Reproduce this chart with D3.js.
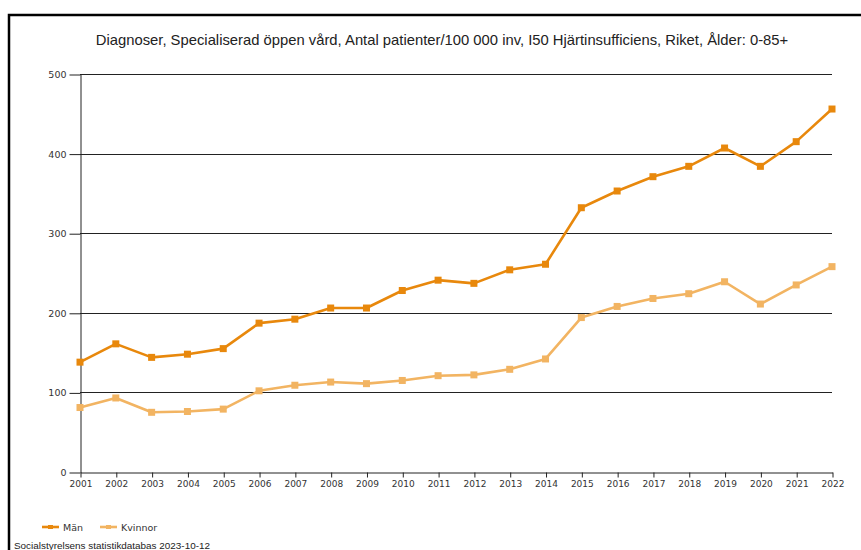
<!DOCTYPE html>
<html>
<head>
<meta charset="utf-8">
<script src="https://cdn.jsdelivr.net/npm/d3@7"></script>
<style>
  body { margin: 0; background: #fff; }
  svg { display: block; }
</style>
</head>
<body>
<script>
// data
var years = [2001,2002,2003,2004,2005,2006,2007,2008,2009,2010,2011,2012,2013,2014,2015,2016,2017,2018,2019,2020,2021,2022];
var man = [138,161,144,148,155,187,192,206,206,228,241,237,254,261,332,353,371,384,407,384,415,456];
var kvinnor = [81,93,75,76,79,102,109,113,111,115,121,122,129,142,194,208,218,224,239,211,235,258];
var yTicks = [0,100,200,300,400,500];
var seriesNames = ["Män","Kvinnor"];
var colors = ["#E8880C","#F2B462"];
var title = "Diagnoser, Specialiserad öppen vård, Antal patienter/100 000 inv, I50 Hjärtinsufficiens, Riket, Ålder: 0-85+";
var footer = "Socialstyrelsens statistikdatabas 2023-10-12";

var W = 861, H = 550;
var svg = d3.select("body").append("svg").attr("width", W).attr("height", H);

// outer frame
svg.append("path")
  .attr("d", "M9,560 L9,15 L870,15")
  .attr("fill", "none").attr("stroke", "#000").attr("stroke-width", 2.5);

svg.append("text")
  .attr("x", 442).attr("y", 45)
  .attr("text-anchor", "middle")
  .attr("font-family", "Liberation Sans, Arial, sans-serif")
  .attr("font-size", 14.8).attr("fill", "#222")
  .text(title);

var x = d3.scalePoint().domain(years).range([80, 832]);
var y = d3.scaleLinear().domain([0, 500]).range([472, 74]);

// grid
svg.append("g").selectAll("line")
  .data(yTicks.slice(1))
  .enter().append("line")
  .attr("x1", 80).attr("x2", 832)
  .attr("y1", function(d){ return Math.round(y(d)) + 0.5; })
  .attr("y2", function(d){ return Math.round(y(d)) + 0.5; })
  .attr("stroke", "#222").attr("stroke-width", 1);

// y axis
var yAxis = svg.append("g")
  .attr("transform", "translate(80.5,0.5)")
  .call(d3.axisLeft(y).tickValues(yTicks).tickSize(11).tickSizeOuter(0));
yAxis.select(".domain").attr("stroke", "#222");
yAxis.selectAll(".tick line").attr("stroke", "#222");
yAxis.selectAll("text")
  .attr("font-family", "DejaVu Sans, Verdana, sans-serif")
  .attr("font-size", 9.5).attr("fill", "#333").attr("x", -14);

// x axis
var xAxis = svg.append("g")
  .attr("transform", "translate(0.5," + (y(0) + 0.5) + ")")
  .call(d3.axisBottom(x).tickSize(5).tickSizeOuter(0));
xAxis.select(".domain").attr("stroke", "#222");
xAxis.selectAll(".tick line").attr("stroke", "#222");
xAxis.selectAll("text")
  .attr("font-family", "DejaVu Sans, Verdana, sans-serif")
  .attr("font-size", 9).attr("fill", "#333").attr("y", 8);

// series
var series = [man, kvinnor];
var line = d3.line()
  .x(function(d, i){ return x(years[i]); })
  .y(function(d){ return y(d); });

// draw Kvinnor first so Män sits on top
[1, 0].forEach(function(s) {
  var g = svg.append("g");
  g.append("path")
    .attr("d", line(series[s]))
    .attr("fill", "none")
    .attr("stroke", colors[s]).attr("stroke-width", 2.6)
    .attr("stroke-linejoin", "round");
  g.selectAll("rect")
    .data(series[s])
    .enter().append("rect")
    .attr("x", function(d, i){ return x(years[i]) - 3.5; })
    .attr("y", function(d){ return y(d) - 3.5; })
    .attr("width", 7).attr("height", 7)
    .attr("fill", colors[s]);
});

// legend
var legX = [42, 100];
var leg = svg.append("g");
seriesNames.forEach(function(n, i) {
  leg.append("line")
    .attr("x1", legX[i]).attr("x2", legX[i] + 17)
    .attr("y1", 527).attr("y2", 527)
    .attr("stroke", colors[i]).attr("stroke-width", 2.6);
  leg.append("rect")
    .attr("x", legX[i] + 6).attr("y", 525).attr("width", 5).attr("height", 4)
    .attr("fill", colors[i]);
  leg.append("text")
    .attr("x", legX[i] + 21).attr("y", 530.5)
    .attr("font-family", "DejaVu Sans, Verdana, sans-serif")
    .attr("font-size", 9.5).attr("fill", "#333")
    .text(n);
});

svg.append("text")
  .attr("x", 14).attr("y", 549)
  .attr("font-family", "Liberation Sans, Arial, sans-serif")
  .attr("font-size", 9).attr("fill", "#222")
  .attr("textLength", 196).attr("lengthAdjust", "spacingAndGlyphs")
  .text(footer);
</script>
</body>
</html>
